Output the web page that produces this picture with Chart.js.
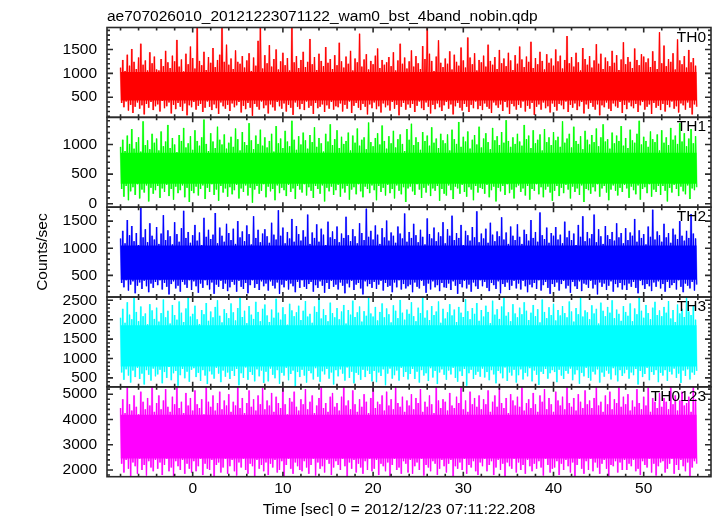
<!DOCTYPE html>
<html>
<head>
<meta charset="utf-8">
<title>ae707026010 WAM light curve</title>
<script src="https://cdn.jsdelivr.net/npm/chart.js@4.4.1/dist/chart.umd.min.js"></script>
<style>
  html, body { margin: 0; padding: 0; background: #fff; }
  canvas { display: block; }
</style>
</head>
<body>
<canvas id="lcChart" width="717" height="516"></canvas>
<script>
// light curve: for every 0.25 s slot one upward and one downward excursion
const startTime = -8.0;   // sec
const slot = 0.25;        // sec

const th0Hi = [
  1120,1280,1050,1390,1160,1510,1240,1090,1330,1620,1180,1270,1060,1440,1210,1350,
  1080,1060,1300,1150,1470,1230,1110,1370,1250,1700,1140,1290,1040,1410,1190,1560,
  1320,1100,1950,1260,1170,1450,1070,1340,1220,1530,1130,1280,1390,1960,1240,1600,
  1180,1310,1090,1480,1240,1200,1360,1120,1270,1420,1050,1330,1160,1680,1950,1100,
  1380,1210,1590,1140,1300,1500,1080,1250,1430,1170,1320,1060,1960,1230,1360,1110,
  1280,1450,1130,1240,1720,1190,1340,1070,1410,1260,1150,1550,1220,1300,1090,1380,
  1170,1640,1250,1120,1350,1200,1470,1060,1310,1230,1830,1140,1290,1400,1080,1260,
  1190,1370,1520,1110,1280,1180,1230,1340,1150,1440,1060,1270,1620,1200,1330,1100,
  1250,1480,1140,1360,1210,1090,1570,1300,1960,1410,1260,1050,1350,1690,1220,1130,
  1310,1200,1460,1080,1390,1240,1160,1540,1270,1120,1750,1330,1190,1420,1060,1280,
  1230,1370,1140,1600,1260,1180,1340,1090,1490,1210,1310,1150,1430,1270,1070,1380,
  1200,1560,1290,1130,1350,1240,1660,1110,1320,1190,1450,1260,1080,1400,1220,1310,
  1160,1500,1250,1370,1100,1280,1780,1210,1340,1140,1430,1230,1060,1530,1300,1180,
  1360,1120,1270,1610,1200,1410,1090,1330,1250,1150,1470,1220,1380,1070,1290,1650,
  1190,1340,1240,1110,1520,1280,1170,1400,1350,1230,1310,1130,1460,1260,1090,1860,
  1210,1580,1150,1300,1240,1420,1080,1710,1270,1190,1360,1120,1490,1230,1320,1160
];
const th0Lo = [
  380,290,410,220,340,170,300,390,260,330,140,360,280,400,230,310,
  350,200,420,270,310,390,160,340,250,380,300,210,370,120,330,290,
  400,240,320,360,190,280,410,300,230,350,270,150,390,310,260,340,
  210,370,290,330,400,180,320,250,380,280,110,360,300,240,410,270,
  330,160,350,290,220,400,310,260,370,200,340,280,130,390,300,250,
  360,230,410,280,320,150,380,270,300,350,190,330,260,400,240,310,
  290,370,200,340,260,410,170,320,380,280,230,360,300,140,350,270,
  390,250,310,180,370,290,330,220,400,260,340,120,300,380,240,350,
  280,360,190,320,410,270,230,390,300,160,340,250,370,290,210,330,
  400,260,350,140,310,380,280,220,360,300,190,340,270,410,250,320,
  230,370,300,260,170,390,330,280,350,210,400,290,150,360,310,240,
  340,280,410,200,320,260,380,130,300,350,240,390,270,310,180,370,
  300,220,360,330,250,410,190,340,280,370,230,310,400,160,350,260,
  380,300,240,350,120,330,290,390,260,210,370,310,280,400,170,340,
  250,390,310,270,360,190,330,400,240,300,350,150,380,280,320,230,
  360,200,340,290,410,260,310,180,370,330,240,390,280,140,350,300
];
const th1Hi = [
  960,1080,890,1150,1010,1260,930,1040,1120,880,1390,990,1070,920,1180,1030,
  1100,900,1220,970,1050,1330,940,1110,1000,870,1160,1060,1280,950,1020,1140,
  910,1240,1060,980,1120,1420,1010,890,1190,1050,940,1300,1080,1000,1170,930,
  1030,1130,960,1270,1090,900,1210,1040,990,1360,1070,920,1150,1010,1250,980,
  1120,950,1060,1180,880,1310,1020,1100,940,1230,1050,970,1400,1080,910,1140,
  1000,1200,1070,930,1160,1040,1290,960,1110,1020,880,1180,1050,1340,990,1090,
  1240,940,1130,1010,1060,1200,900,1150,1030,1270,980,1080,1120,920,1370,1040,
  970,1110,1190,1000,1320,1060,930,1140,1020,1230,950,1090,1170,1010,890,1260,
  1080,1350,990,1120,1040,910,1210,1060,1150,980,1290,1030,1100,940,1180,1070,
  1020,1170,900,1250,1090,1010,1380,960,1130,1050,1220,930,1080,1160,1000,1300,
  950,1100,1190,1040,920,1280,1070,1140,990,1210,1030,1410,1060,960,1120,1010,
  1180,1050,980,1330,1090,1150,940,1240,1020,1080,1170,900,1260,1040,1120,990,
  1210,1070,1130,960,1390,1030,1100,1180,950,1300,1060,1010,1140,920,1230,1080,
  1000,1160,1040,1270,970,1120,1340,1050,1090,930,1200,1020,1150,1060,1310,980,
  1110,940,1250,1070,1030,1180,1400,1000,1130,1060,960,1220,1090,1040,1170,900,
  1240,1030,1120,990,1280,1080,1150,1010,1360,1050,1190,970,1100,1260,1020,1140
];
const th1Lo = [
  250,120,300,60,210,280,150,330,90,240,190,310,40,270,170,230,
  300,100,260,200,320,130,250,70,290,180,230,310,110,270,30,220,
  180,290,140,250,310,80,270,200,330,150,240,50,300,190,260,120,
  280,160,230,320,90,260,200,310,140,270,20,240,300,170,220,330,
  110,290,210,250,60,310,180,270,230,130,320,200,260,80,300,240,
  190,330,140,280,220,100,300,250,170,310,40,270,210,290,150,230,
  320,120,260,190,300,70,240,280,160,330,210,110,290,250,180,310,
  230,60,300,200,270,140,320,180,250,90,310,220,160,280,30,260,
  290,210,150,330,240,100,270,190,310,130,260,220,300,50,250,170,
  140,310,230,80,290,260,170,320,200,120,280,240,60,300,190,270,
  250,170,320,110,230,290,40,270,210,300,150,330,180,240,90,280,
  310,200,260,140,300,70,250,220,330,160,280,110,240,290,190,50,
  220,300,130,270,180,320,240,90,290,200,260,150,310,30,250,230,
  170,280,210,330,120,260,300,190,60,240,310,220,140,270,200,320,
  260,100,290,230,160,310,70,250,280,180,330,120,240,200,300,150,
  300,220,40,270,190,320,250,130,290,210,160,310,80,260,230,280
];
const th2Hi = [
  1180,1320,1090,1520,1240,1410,1130,1280,1060,1750,1200,1350,1110,1460,1230,1160,
  1390,1080,1270,1610,1150,1330,1220,1070,1480,1260,1120,1370,1690,1190,1300,1100,
  1240,1430,1140,1290,1060,1560,1210,1340,1170,1250,1650,1090,1380,1230,1120,1450,
  1280,1150,1360,1080,1500,1200,1310,1130,1420,1260,1070,1590,1190,1340,1110,1270,
  1350,1220,1100,1470,1250,1160,1700,1230,1380,1090,1300,1180,1540,1120,1410,1260,
  1140,1330,1210,1620,1080,1290,1190,1440,1120,1360,1250,1060,1490,1200,1310,1170,
  1400,1110,1270,1190,1580,1240,1130,1350,1220,1090,1460,1280,1150,1730,1210,1320,
  1160,1420,1250,1080,1370,1200,1510,1140,1290,1230,1100,1400,1270,1180,1640,1120,
  1300,1190,1450,1240,1110,1340,1210,1070,1550,1260,1180,1380,1130,1290,1220,1480,
  1090,1350,1230,1600,1150,1280,1190,1430,1060,1320,1240,1140,1390,1200,1680,1110,
  1270,1180,1360,1100,1470,1250,1130,1310,1220,1570,1160,1290,1080,1400,1230,1150,
  1440,1210,1080,1340,1260,1140,1520,1190,1300,1120,1660,1240,1170,1380,1100,1280,
  1230,1390,1160,1250,1090,1490,1200,1320,1150,1270,1060,1430,1210,1590,1130,1300,
  1180,1260,1620,1110,1350,1220,1080,1410,1240,1170,1300,1140,1460,1200,1280,1090,
  1370,1150,1290,1230,1540,1120,1330,1190,1260,1070,1400,1210,1710,1160,1310,1240,
  1120,1450,1200,1280,1100,1360,1250,1170,1500,1230,1140,1320,1190,1630,1270,1180
];
const th2Lo = [
  360,280,410,220,330,390,170,310,370,250,400,300,190,350,270,380,
  320,410,240,360,290,150,340,390,260,310,200,380,330,270,410,230,
  390,300,180,350,270,410,320,240,370,160,330,290,400,250,350,210,
  280,380,330,200,400,290,250,360,170,320,410,270,340,230,390,300,
  350,220,390,310,260,370,160,330,280,400,240,350,300,190,380,270,
  410,290,250,340,380,200,320,270,390,310,180,360,250,400,290,330,
  240,370,310,170,350,280,400,230,330,360,260,150,390,300,340,270,
  380,250,330,400,220,360,290,310,190,370,280,410,240,340,260,300,
  330,190,370,290,260,400,310,180,350,240,390,280,320,210,360,280,
  270,350,230,390,310,160,340,280,400,260,330,200,370,300,250,410,
  300,380,270,210,360,320,250,390,170,340,290,370,230,310,400,260,
  350,240,400,300,190,330,280,360,250,410,220,320,380,270,160,340,
  290,370,220,340,400,260,310,180,380,300,250,390,210,350,330,270,
  400,260,330,150,370,290,350,230,310,390,200,340,280,360,240,320,
  230,350,290,380,270,170,400,320,250,340,300,210,370,290,390,260,
  340,200,380,270,320,360,240,410,290,190,350,310,260,380,220,330
];
const th3Hi = [
  2050,2280,1920,2450,2130,2010,2585,2200,1960,2340,2090,2160,1880,2400,2240,2020,
  2310,1950,2170,2520,2060,2230,1900,2380,2120,2000,2470,2180,1940,2290,2585,2080,
  2150,2360,2010,1890,2250,2140,2430,1970,2210,2060,2330,2500,2100,1930,2270,2170,
  2040,2420,2190,1980,2300,2585,2070,2230,1910,2350,2130,2020,2460,2200,1960,2280,
  2390,2110,1940,2260,2050,2540,2180,2000,2320,2140,1870,2410,2240,2090,2190,2360,
  1990,2230,2480,2080,2150,1920,2340,2200,2585,2030,2270,2120,1960,2440,2170,2060,
  2300,2010,2210,2380,1900,2250,2130,2490,2070,2190,2340,1950,2220,2100,2560,2160,
  2080,2330,1980,2200,2420,2060,2290,2140,1930,2370,2230,2040,2510,2180,2000,2260,
  2150,2450,2090,1960,2310,2170,2585,2050,2240,1990,2350,2120,2210,2470,1920,2280,
  2030,2190,2400,2110,2260,1940,2330,2180,2070,2530,2220,2010,2300,2150,2430,1970,
  2250,2080,2360,2200,1910,2490,2130,2270,2020,2340,2585,2100,2190,1960,2400,2160,
  2060,2310,2140,2450,2230,1990,2180,2380,2090,2270,1930,2520,2200,2040,2320,2120,
  2410,1980,2250,2110,2350,2170,2060,2470,2210,1950,2300,2140,2585,2080,2240,2190,
  2010,2370,2160,2280,1900,2440,2230,2090,2330,2180,2500,2040,2260,2150,1970,2350,
  2200,2100,2420,1960,2290,2140,2560,2230,2050,2380,2170,2010,2310,2460,2120,2240,
  2090,2330,2180,2480,2030,2250,1940,2390,2160,2280,2070,2585,2210,2120,2360,2000
];
const th3Lo = [
  640,450,720,560,380,690,520,760,470,610,330,700,580,430,740,540,
  590,710,360,650,500,780,440,620,680,300,570,730,490,660,400,710,
  750,520,630,420,700,560,340,670,590,480,760,610,390,690,530,640,
  470,680,550,730,310,620,500,770,450,650,580,410,720,540,690,370,
  660,410,740,580,490,700,350,630,560,760,440,600,690,290,650,520,
  710,560,380,680,620,460,750,530,400,670,590,730,480,640,330,700,
  540,720,610,430,770,500,660,360,630,580,450,710,520,690,600,410,
  680,390,640,550,720,310,610,740,480,570,690,430,760,530,650,460,
  600,730,470,660,380,700,560,620,420,750,510,680,340,640,720,580,
  450,690,590,760,500,400,670,550,730,300,620,710,470,580,660,530,
  740,510,650,440,700,590,360,680,620,490,770,420,640,560,710,380,
  570,720,460,630,540,750,410,690,580,320,660,600,730,480,620,700,
  650,390,710,560,470,680,610,740,440,590,700,350,630,540,760,500,
  430,660,590,720,380,640,530,690,610,460,750,570,410,700,550,620,
  710,480,640,570,730,330,680,520,600,760,440,650,580,700,390,630,
  560,700,420,660,590,740,500,610,370,690,550,720,460,640,580,680
];
const th0123Hi = [
  4450,4800,4250,5290,4600,4350,4950,4500,4200,5100,4700,4400,4850,4550,5290,4300,
  4650,4950,4400,4750,5200,4500,4300,4900,4600,5290,4450,4700,4250,5050,4550,4850,
  4350,5150,4600,4450,4800,4200,5290,4700,4500,4950,4350,4650,5100,4400,4750,4550,
  5000,4300,4700,4550,5290,4450,4850,4250,4650,5150,4500,4800,4350,4950,4600,5250,
  4400,4750,4550,5050,4300,4900,4650,4450,5290,4600,4200,4850,4700,5100,4500,4350,
  4800,4600,5200,4400,4700,4950,4250,4550,4850,5290,4450,4650,4300,4900,5050,4500,
  4650,4350,4900,5290,4550,4750,4400,5150,4600,4300,4800,4500,5000,4700,4250,4850,
  5290,4450,4700,4600,4950,4350,5100,4550,4800,4400,5290,4650,4500,4900,4300,4750,
  4550,5000,4400,4850,4650,5200,4300,4700,4500,4950,4600,4250,5290,4750,4450,4800,
  4700,4350,5050,4550,4450,4900,4650,5290,4400,4750,4300,5100,4600,4850,4500,4950,
  4400,4800,4600,5150,4300,4700,4950,4500,5290,4650,4450,4850,4250,5000,4750,4550,
  4900,4500,5290,4350,4650,4800,4450,5050,4600,4300,4950,4700,5200,4400,4850,4600,
  4300,5100,4750,4550,4900,4400,5290,4650,4500,4850,4350,5000,4700,4450,5150,4600,
  4750,4450,4850,5290,4550,4700,4300,4950,4600,5100,4400,4800,4650,5290,4500,4900,
  4600,5000,4350,4750,4500,5200,4650,4400,4900,4550,5290,4300,4850,4700,4450,5050,
  4500,4850,4700,4400,5290,4600,4950,4350,4750,5100,4550,4650,4900,4300,5290,4800
];
const th0123Lo = [
  2250,1900,2400,2050,1750,2300,2150,1850,2450,2000,2200,1780,2350,2100,1950,2400,
  2050,2300,1800,2200,2450,1950,2100,1760,2350,2150,2000,2400,1850,2250,2050,1900,
  2350,1950,2150,2450,1800,2250,2050,2000,2400,1750,2200,2300,1900,2100,2450,1850,
  2150,2400,1950,1780,2300,2100,2450,2000,1850,2250,2150,1760,2400,2050,2200,1950,
  2300,1800,2250,2100,2400,1900,2000,2350,1750,2200,2450,2050,1850,2300,2150,2000,
  1950,2350,2100,1850,2200,2450,1780,2300,2050,2150,1900,2400,2250,1800,2100,2350,
  2200,2000,2450,2150,1760,2300,2050,2400,1900,2250,2100,1850,2350,2000,2450,1950,
  2050,2400,1800,2250,2150,1950,2300,1750,2200,2450,2000,2100,1850,2350,2250,1900,
  2400,1850,2150,2300,2000,2450,1780,2200,2100,1950,2350,2250,1800,2050,2400,2150,
  1900,2250,2400,1760,2150,2050,2300,2000,2450,1850,2200,2100,2350,1950,1800,2300,
  2150,2450,1950,2200,2350,1800,2100,2400,2000,2250,1750,2300,2150,2050,2450,1900,
  2300,2000,2200,1850,2400,2150,1950,2250,2050,2350,2100,1780,2450,2200,1900,2050,
  2100,2350,1800,2250,2000,2400,2150,1900,2300,1760,2200,2450,2050,1850,2350,2000,
  2450,1950,2300,2100,1850,2250,2400,2050,1750,2200,2150,2350,1900,2300,2000,2400,
  2000,2250,2150,2400,1950,2050,1800,2350,2200,2100,2450,1900,2250,1780,2150,2300,
  2350,1900,2050,2250,2450,1850,2200,2000,2400,2150,1950,2300,1760,2100,2350,2250
];

// solid middle of each band (counts/sec)
const coreLow  = [430, 340, 420, 790, 2460];
const coreHigh = [1030, 860, 1050, 1860, 4190];

const panelNames  = ['TH0', 'TH1', 'TH2', 'TH3', 'TH0123'];
const panelColors = ['#ff0000', '#00ff00', '#0000ff', '#00ffff', '#ff00ff'];
const fringeColors = ['rgba(255,0,0,0.35)', 'rgba(0,255,0,0.35)', 'rgba(0,0,255,0.35)',
                      'rgba(0,255,255,0.35)', 'rgba(255,0,255,0.35)'];

// axes
const xMin = -9.5, xMax = 57.46;
const xTicks = [0, 10, 20, 30, 40, 50];
const yMin = [78, -57, 101, 268, 1735];
const yMax = [1960, 1458, 1757, 2585, 5290];
const yTicks = [
  [500, 1000, 1500],
  [0, 500, 1000],
  [500, 1000, 1500],
  [500, 1000, 1500, 2000, 2500],
  [2000, 3000, 4000, 5000]
];
const yMinor = [100, 100, 100, 100, 200];

const FONT = '"Liberation Sans", Arial, Helvetica, sans-serif';
Chart.defaults.font.family = FONT;
Chart.defaults.font.size = 15.5;
Chart.defaults.color = '#000';

const highs = [th0Hi, th1Hi, th2Hi, th3Hi, th0123Hi];
const lows  = [th0Lo, th1Lo, th2Lo, th3Lo, th0123Lo];

function curvePoints(hi, lo) {
    const pts = [];
    hi.forEach((v, k) => {
        const t = startTime + k * slot;
        pts.push({x: t, y: v});
        pts.push({x: t + slot / 2, y: lo[k]});
    });
    return pts;
}

const datasets = [];
panelNames.forEach((name, i) => {
    const points = curvePoints(highs[i], lows[i]);
    const tEnd = points[points.length - 1].x;
    datasets.push({
        label: name + ' core',
        data: [{x: startTime, y: coreHigh[i]}, {x: tEnd, y: coreHigh[i]}],
        yAxisID: 'y' + i,
        borderWidth: 0,
        borderColor: 'rgba(0,0,0,0)',
        backgroundColor: panelColors[i],
        fill: {value: coreLow[i]},
        pointRadius: 0
    });
    datasets.push({
        label: name + ' edge',
        data: points,
        yAxisID: 'y' + i,
        borderColor: fringeColors[i],
        borderWidth: 2,
        borderJoinStyle: 'bevel',
        pointRadius: 0,
        fill: false,
        tension: 0
    });
    datasets.push({
        label: name,
        data: points,
        yAxisID: 'y' + i,
        borderColor: panelColors[i],
        borderWidth: 1,
        pointRadius: 0,
        fill: false,
        tension: 0
    });
});

const scales = {
    x: {
        type: 'linear',
        min: xMin,
        max: xMax,
        grid: {display: false, drawTicks: false},
        border: {display: false},
        ticks: {padding: 3, autoSkip: false, maxRotation: 0, callback: v => String(v)},
        afterBuildTicks: s => { s.ticks = xTicks.map(v => ({value: v})); },
        afterFit: s => { s.height = 39.3; }
    }
};
panelNames.forEach((name, i) => {
    scales['y' + i] = {
        type: 'linear',
        position: 'left',
        stack: 'panels',
        stackWeight: 1,
        weight: panelNames.length - i,
        min: yMin[i],
        max: yMax[i],
        grid: {display: false, drawTicks: false},
        border: {display: false},
        ticks: {padding: 10, autoSkip: false, callback: v => String(v)},
        title: {display: i === 2, text: 'Counts/sec', padding: {top: 33, bottom: 0}},
        afterBuildTicks: s => { s.ticks = yTicks[i].map(v => ({value: v})); },
        afterFit: s => { s.width = 107; }
    };
});

// qdp style frames with inward ticks, panel names and titles
const panelFrames = {
    id: 'panelFrames',
    afterDatasetsDraw(chart) {
        const ctx = chart.ctx;
        const area = chart.chartArea;
        const xs = chart.scales.x;
        ctx.save();
        ctx.strokeStyle = '#2a2a2a';
        ctx.lineWidth = 1.6;
        panelNames.forEach((name, i) => {
            const ys = chart.scales['y' + i];
            const top = ys.top, bottom = ys.bottom;
            ctx.strokeRect(area.left, top, area.right - area.left, bottom - top);
            ctx.beginPath();
            const step = yMinor[i];
            for (let v = Math.ceil(yMin[i] / step) * step; v <= yMax[i]; v += step) {
                const py = ys.getPixelForValue(v);
                const len = yTicks[i].includes(v) ? 6 : 3;
                ctx.moveTo(area.left, py); ctx.lineTo(area.left + len, py);
                ctx.moveTo(area.right, py); ctx.lineTo(area.right - len, py);
            }
            for (let t = -8; t <= 56; t += 2) {
                const px = xs.getPixelForValue(t);
                const len = t % 10 === 0 ? 5 : 3;
                ctx.moveTo(px, top); ctx.lineTo(px, top + len);
                ctx.moveTo(px, bottom); ctx.lineTo(px, bottom - len);
            }
            ctx.stroke();

            ctx.fillStyle = '#000';
            ctx.font = '15.5px ' + FONT;
            ctx.textAlign = 'right';
            ctx.textBaseline = 'top';
            ctx.fillText(name, area.right - 5, top + 2);
        });

        ctx.font = '15.5px ' + FONT;
        ctx.fillStyle = '#000';
        ctx.textBaseline = 'alphabetic';
        ctx.textAlign = 'left';
        ctx.fillText('ae707026010_20121223071122_wam0_bst_4band_nobin.qdp', area.left, 21);
        ctx.textAlign = 'center';
        ctx.fillText('Time [sec] 0 = 2012/12/23 07:11:22.208', 399, 513.5);
        ctx.restore();
    }
};

new Chart(document.getElementById('lcChart'), {
    type: 'line',
    data: {datasets},
    options: {
        responsive: false,
        animation: false,
        events: [],
        layout: {padding: {top: 27.5, right: 6, bottom: 0, left: 0}},
        scales,
        plugins: {
            legend: {display: false},
            tooltip: {enabled: false}
        }
    },
    plugins: [panelFrames]
});
</script>
</body>
</html>
